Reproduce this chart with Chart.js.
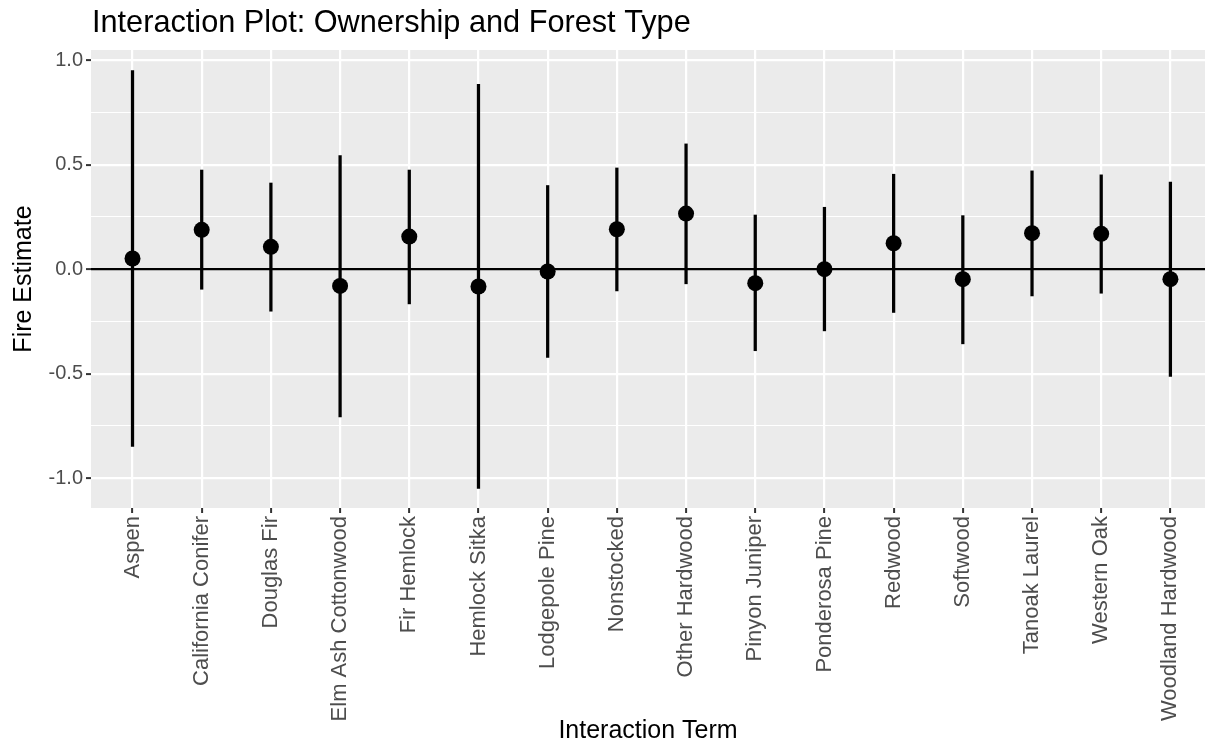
<!DOCTYPE html>
<html>
<head>
<meta charset="utf-8">
<script src="https://cdn.jsdelivr.net/npm/chart.js@4"></script>
<style>
  html, body { margin: 0; padding: 0; background: #fff; }
  canvas { display: block; }
</style>
</head>
<body>
<canvas id="interactionChart" width="1213" height="748"></canvas>
<script>
const categories = ['Aspen', 'California Conifer', 'Douglas Fir', 'Elm Ash Cottonwood', 'Fir Hemlock',
  'Hemlock Sitka', 'Lodgepole Pine', 'Nonstocked', 'Other Hardwood', 'Pinyon Juniper',
  'Ponderosa Pine', 'Redwood', 'Softwood', 'Tanoak Laurel', 'Western Oak', 'Woodland Hardwood'];
const estimates = [0.051, 0.188, 0.107, -0.080, 0.156, -0.083, -0.011, 0.191, 0.266, -0.067,
  0.000, 0.124, -0.048, 0.172, 0.169, -0.048];
const lower = [-0.847, -0.096, -0.201, -0.707, -0.166, -1.048, -0.422, -0.104, -0.070, -0.390,
  -0.295, -0.207, -0.357, -0.128, -0.115, -0.513];
const upper = [0.949, 0.474, 0.412, 0.543, 0.474, 0.884, 0.400, 0.484, 0.599, 0.259,
  0.296, 0.454, 0.256, 0.470, 0.451, 0.416];
const yTicks = [-1.0, -0.75, -0.5, -0.25, 0.0, 0.25, 0.5, 0.75, 1.0];

const FONT = 'Liberation Sans, Arial, Helvetica, sans-serif';
const isMajor = v => Math.abs(v * 2 - Math.round(v * 2)) < 1e-9;

// grey panel like ggplot
const panelBg = {
  id: 'panelBg',
  beforeDraw(chart) {
    const { ctx, chartArea: a } = chart;
    ctx.save();
    ctx.fillStyle = '#EBEBEB';
    ctx.fillRect(a.left, a.top, a.right - a.left, a.bottom - a.top);
    ctx.restore();
  }
};

// title aligned with panel's left edge
const plotTitle = {
  id: 'plotTitle',
  afterDraw(chart) {
    const ctx = chart.ctx;
    ctx.save();
    ctx.fillStyle = '#000';
    ctx.font = '30.7px ' + FONT;
    ctx.textAlign = 'left';
    ctx.textBaseline = 'alphabetic';
    ctx.fillText('Interaction Plot: Ownership and Forest Type', chart.chartArea.left + 1, 32);
    ctx.restore();
  }
};

const ctx = document.getElementById('interactionChart').getContext('2d');
const interactionChart = new Chart(ctx, {
  type: 'bar',
  data: {
    datasets: [
      {
        type: 'scatter',
        label: 'Estimate',
        data: estimates.map((v, i) => ({ x: i, y: v })),
        backgroundColor: '#000',
        borderWidth: 0,
        pointRadius: 8,
        pointHoverRadius: 8
      },
      {
        type: 'bar',
        label: 'Interval',
        data: categories.map((c, i) => ({ x: i, y: [lower[i], upper[i]] })),
        backgroundColor: '#000',
        borderWidth: 0,
        barThickness: 2.6
      }
    ]
  },
  options: {
    responsive: false,
    animation: false,
    devicePixelRatio: 1,
    layout: { padding: { top: 50, right: 0, left: 0, bottom: 0 } },
    plugins: {
      legend: { display: false },
      tooltip: { enabled: false },
      title: { display: false }
    },
    scales: {
      x: {
        type: 'linear',
        min: -0.6,
        max: 15.5,
        offset: false,
        afterBuildTicks: scale => { scale.ticks = categories.map((c, i) => ({ value: i })); },
        afterFit: scale => { scale.height = 240; },
        border: { display: false },
        grid: {
          offset: false,
          color: '#FFFFFF',
          lineWidth: 2.2,
          tickLength: 5,
          tickColor: '#333333',
          tickWidth: 2
        },
        ticks: {
          autoSkip: false,
          minRotation: 90,
          maxRotation: 90,
          padding: 3,
          color: '#4D4D4D',
          font: { family: FONT, size: 22 },
          callback: v => categories[v] ?? ''
        },
        title: {
          display: true,
          text: 'Interaction Term',
          color: '#000',
          font: { family: FONT, size: 25 },
          padding: { top: 0, bottom: 2 }
        }
      },
      y: {
        type: 'linear',
        min: -1.142,
        max: 1.048,
        afterBuildTicks: scale => { scale.ticks = yTicks.map(v => ({ value: v })); },
        afterFit: scale => { scale.width = 91; },
        border: { display: false },
        grid: {
          color: c => (c.tick && c.tick.value === 0) ? '#000000' : '#FFFFFF',
          lineWidth: c => (c.tick && isMajor(c.tick.value)) ? 2.2 : 1.1,
          tickLength: 5,
          tickColor: c => (c.tick && isMajor(c.tick.value)) ? '#333333' : 'rgba(0,0,0,0)',
          tickWidth: 2
        },
        ticks: {
          padding: 3,
          color: '#4D4D4D',
          font: { family: FONT, size: 20 },
          callback: v => isMajor(v) ? v.toFixed(1) : ''
        },
        title: {
          display: true,
          text: 'Fire Estimate',
          color: '#000',
          font: { family: FONT, size: 25 },
          padding: { top: 9, bottom: 0 }
        }
      }
    }
  },
  plugins: [panelBg, plotTitle]
});
</script>
</body>
</html>
